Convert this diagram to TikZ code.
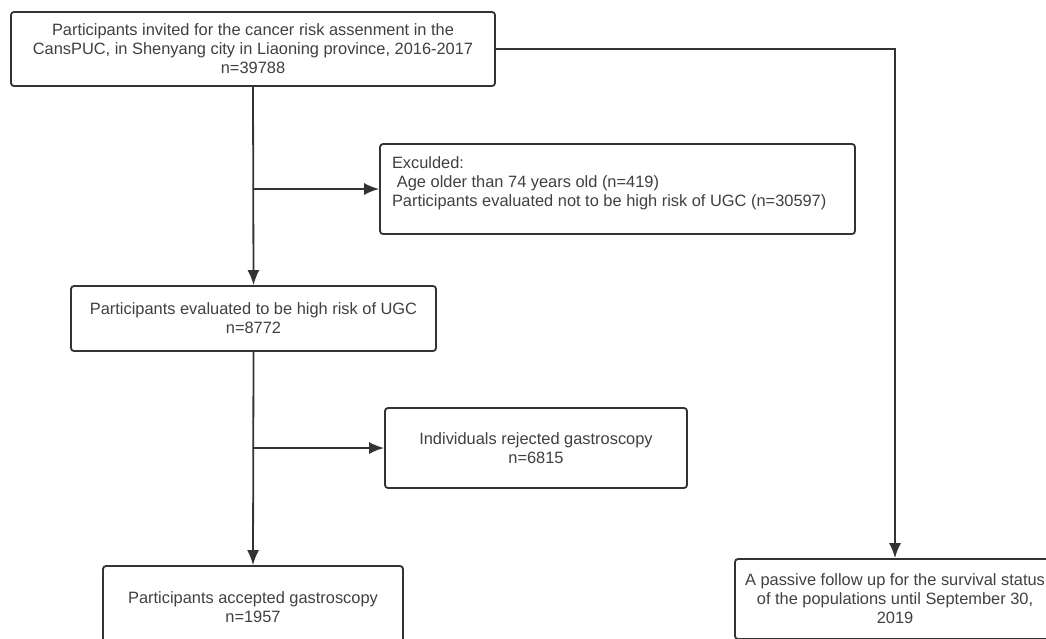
\documentclass[tikz,border=0pt]{standalone}
\usepackage{fontspec}
\setmainfont{Liberation Sans}
\usetikzlibrary{arrows.meta,positioning}
\definecolor{linegray}{HTML}{333333}
\definecolor{textgray}{HTML}{404040}
\tikzset{
  box/.style={rectangle,draw=linegray,line width=1.8pt,rounded corners=3pt,fill=white,
    text=textgray,align=center,inner sep=0pt,font=\fontsize{16.4}{19}\selectfont,
    execute at begin node={\rule{0pt}{18pt}}},
  flow/.style={draw=linegray,line width=1.8pt,->}
}
\begin{document}
\begin{tikzpicture}[x=1pt,y=-1pt,>={Latex[length=15pt,width=12pt]}]
\useasboundingbox (0,0) rectangle (1046,638);
\clip (0,0) rectangle (1046,638);
\node (invited) at (253,49)[box,minimum width=484pt,minimum height=74pt]{Participants invited for the cancer risk assenment in the\\CansPUC, in Shenyang city in Liaoning province, 2016-2017\\n=39788};
\node (excl) at (617.5,189)[box,align=left,inner xsep=12pt]{\parbox[c][90pt][t]{451pt}{\rule{0pt}{24pt}Exculded:\\
  \hspace*{0.3em}Age older than 74 years old (n=419)\\
  Participants evaluated not to be high risk of UGC (n=30597)}};
\node (high) at (253.5,318.5)[box,minimum width=365pt,minimum height=65pt]{Participants evaluated to be high risk of UGC\\n=8772};
\node (reject) at (536,448)[box,minimum width=302pt,minimum height=80pt]{Individuals rejected gastroscopy\\n=6815};
\node (accept) at (253,607)[box,minimum width=300pt,minimum height=82pt]{Participants accepted gastroscopy\\n=1957};
\node (follow) at (895,599)[box,minimum width=320pt,minimum height=80pt]{A passive follow up for the survival status\\of the populations until September 30,\\2019};

\coordinate (j1) at (invited.south |- excl.west);
\coordinate (j2) at (high.south |- reject.west);
\draw[flow](invited.south)--(high.north);
\draw[flow](j1)--(excl.west);
\draw[flow](high.south)--(accept.north);
\draw[flow](j2)--(reject.west);
\draw[flow](invited.east)-|(follow.north);
\end{tikzpicture}
\end{document}
